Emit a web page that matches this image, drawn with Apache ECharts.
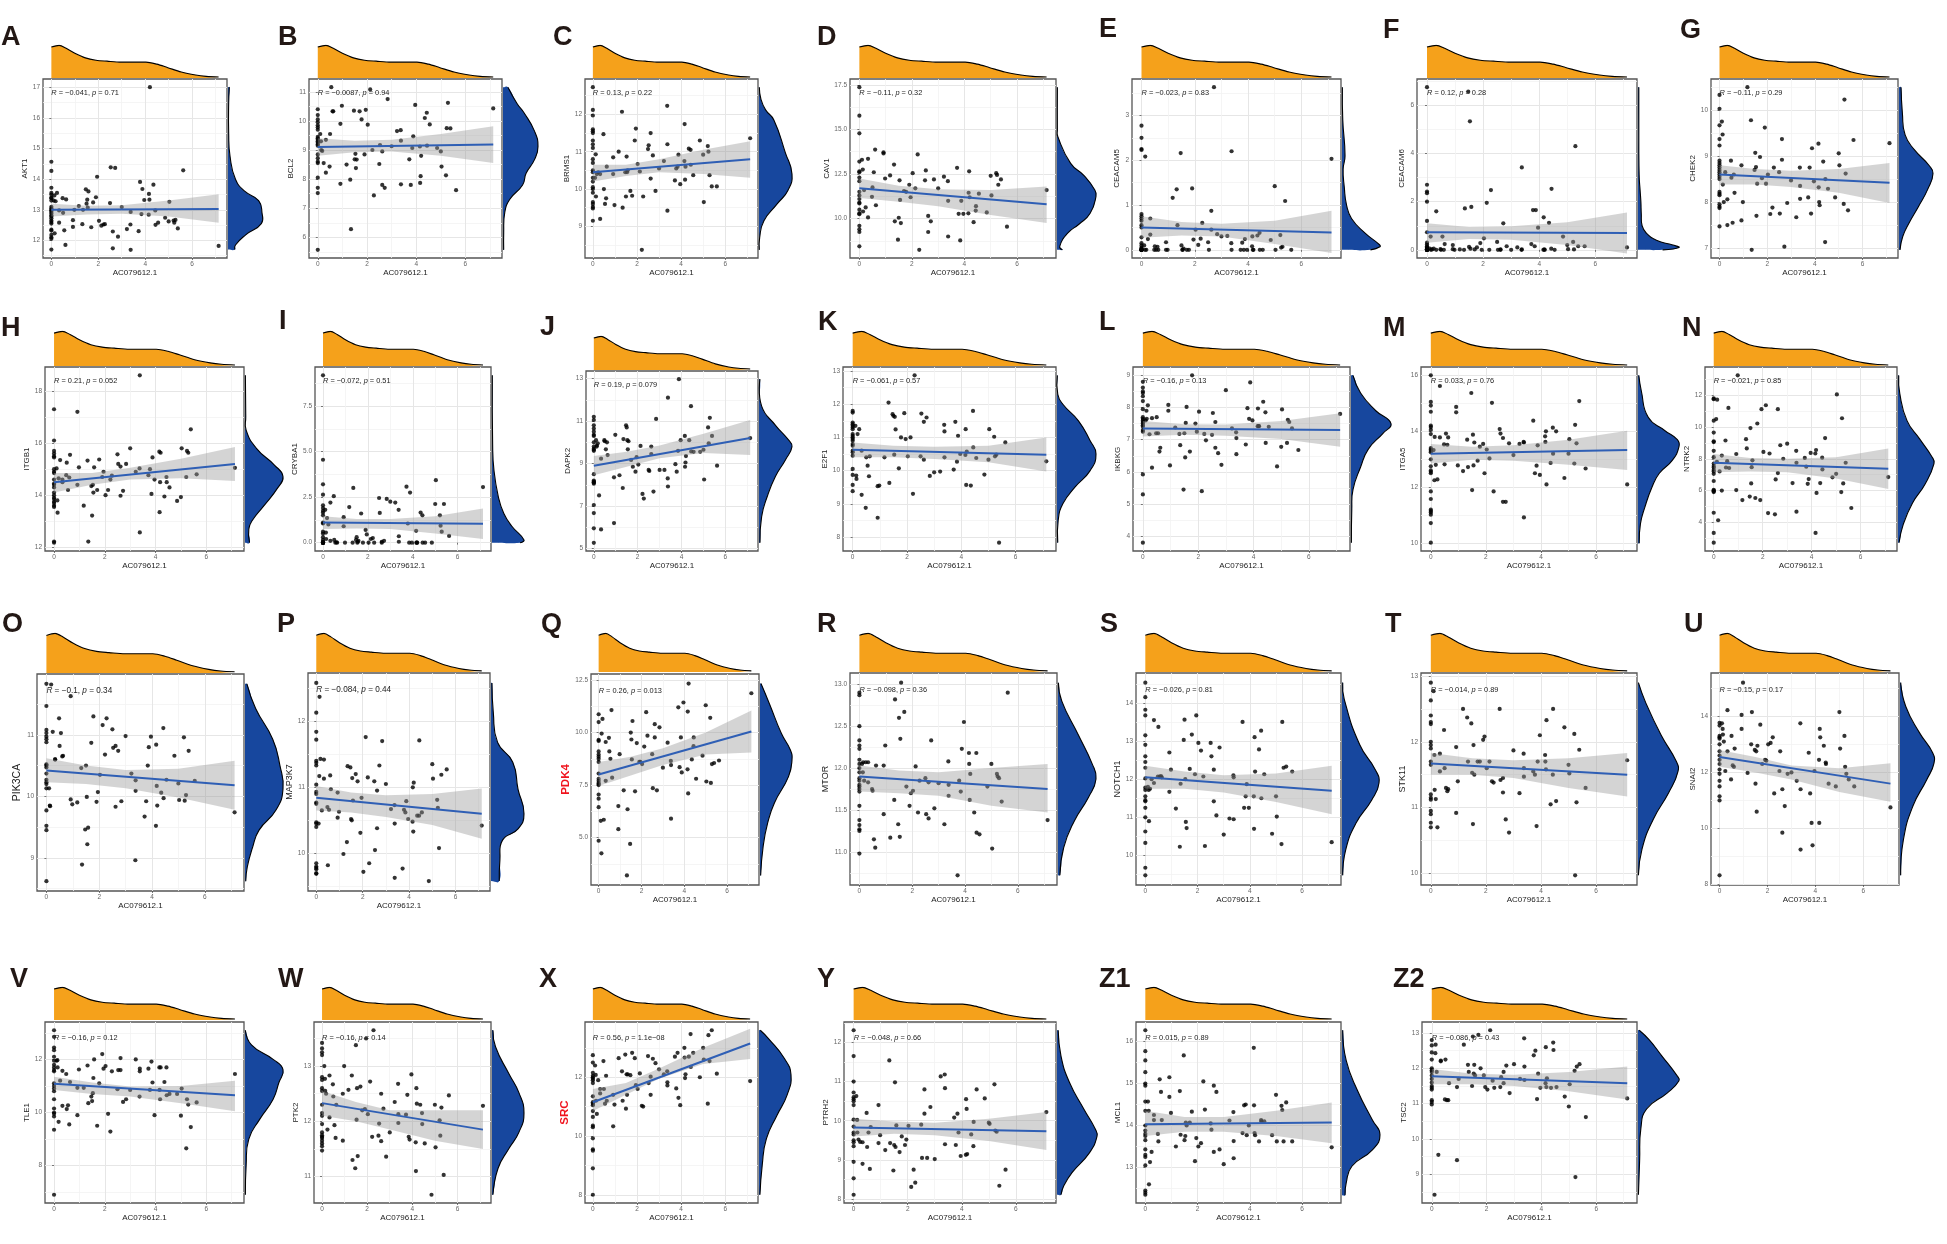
<!DOCTYPE html>
<html>
<head>
<meta charset="utf-8">
<title>AC079612.1 correlation panels</title>
<script src="https://cdn.jsdelivr.net/npm/echarts@6/dist/echarts.min.js"></script>
<style>
  html, body { margin: 0; padding: 0; background: #fff; }
  #chart { width: 1947px; height: 1244px; }
</style>
</head>
<body>
<div id="chart"></div>
<script>
// x values of the samples that are not at zero, same for every panel
const xValues = [
  .1,.13,.14,.18,.24,.33,.33,.48,
  .5,.55,.6,.63,.92,.92,.98,1.17,
  1.32,1.35,1.47,1.5,1.53,1.55,1.58,1.7,
  1.78,1.9,1.95,2.03,2.13,2.22,2.28,2.5,
  2.53,2.62,2.62,2.72,2.84,3,3.22,3.37,
  3.38,3.38,3.72,3.78,3.84,3.88,3.96,4.15,
  4.16,4.18,4.2,4.35,4.43,4.44,4.55,4.85,
  5,5.03,5.21,5.24,5.29,5.39,5.62,7.13];
const xTicks = [0, 2, 4, 6];
const xMinor = [1, 3, 5, 7];
const bandX = [0, 1.5, 3, 5, 7.13];

// marginal density of AC079612.1 along the top
const topX = [0,.33,.63,1,1.45,1.9,2.37,2.97,3.58,4.03,4.49,4.94,5.54,6.15,6.6,7.13];
const topD = [94,99,90,75,61,54,51,48,48,48,42,32,18,9,5,3];

// A AKT1
const zero_A = [14.57,14.27,13.72,13.55,13.5,13.4,13.38,13.3,13.1,13.05,13,12.97,12.93,12.88,12.82,12.78,12.72,12.65,12.6,12.55,12.35,12.32,12.18,12.1,12.05,11.7];
const y_A = [13.3,13.47,12.23,13.28,13.55,12.58,12.98,13.38,12.9,12.33,11.85,13.34,12.66,12.44,13,13.12,12.53,13,13.67,13.2,13.33,13.07,13.6,12.43,13.24,13.41,14.08,12.64,12.48,12.52,12.53,13.22,14.39,12.29,11.74,14.37,12.12,13.09,12.37,12.52,12.93,11.69,12.3,13.91,12.86,13.68,13.32,12.84,13.52,13.33,17.01,13.82,12.98,12.51,12.58,12.74,12.62,13.26,12.65,12.58,12.67,12.39,14.29,11.82];
const fit_A = [13,13.03], lo_A = [12.78,12.85,12.87,12.78,12.58], hi_A = [13.2,13.13,13.15,13.3,13.51];
const rY_A = [11.7,11.85,12.18,12.55,12.9,13.3,13.6,14,14.75,15.5,16.5,17.01], rD_A = [20,22,52,98,100,90,50,22,6,2,2,4];
// B BCL2
const zero_B = [10.4,10.2,10.05,9.95,9.85,9.78,9.7,9.45,9.4,9.35,9.3,9.25,9.2,9.15,8.85,8.72,8.6,8.55,8.05,7.7,7.52,5.57];
const y_B = [9.55,9.3,9,8.97,8.55,8.22,9.35,8.43,9.55,11.16,10.33,10.33,9.9,7.84,10.52,8.5,7.98,6.28,10.35,8.68,8.87,8.38,8.67,10.33,10.05,8.85,10.38,9.87,11.08,9,7.44,8.52,9.17,8.95,7.8,7.7,10.75,9.13,9.65,9.68,9.32,7.82,8.68,7.8,9.07,9.47,10.55,9.12,7.87,8.1,8.8,10.1,10.28,9.15,9.88,9.07,8.95,8.43,8.13,9.75,10.62,9.74,7.62,10.43];
const fit_B = [9.1,9.19], lo_B = [8.8,8.92,8.95,8.8,8.55], hi_B = [9.4,9.32,9.35,9.55,9.82];
const rY_B = [5.57,6.15,6.85,7.3,7.8,8.2,8.67,9.12,9.65,10.28,10.6,11.16], rD_B = [2,2,5,19,56,66,90,100,90,60,40,14];
// C BRMS1
const zero_C = [12.73,12.12,11.97,11.6,11.55,11.5,11.3,11.2,11.1,10.8,10.7,10.5,10.45,10.3,10.2,10.05,10,9.9,9.65,9.6,9.52,9.48,9.15];
const y_C = [10.3,10.93,9.8,10.4,10.45,9.2,10.4,11.47,10,9.6,9.75,10.6,10.85,10.4,9.57,11,12.07,9.5,10.45,9.8,10.87,10.45,10.5,9.95,9.82,11.3,11.62,10.67,10.47,8.37,9.8,11.07,11.17,11.5,10.28,10.9,9.95,10.55,10.75,12.23,11.2,9.42,10.23,10.55,10.6,10.92,10.13,10.75,11.74,10.25,10.6,11.08,11.05,10.65,10.37,11.3,10.92,9.65,11.15,11,10.37,10.07,10.07,11.36];
const fit_C = [10.45,10.8], lo_C = [10.2,10.35,10.45,10.4,10.3], hi_C = [10.65,10.65,10.8,11.05,11.28];
const rY_C = [8.37,8.7,9.15,9.6,9.97,10.4,10.97,11.85,12.12,12.4,12.73], rD_C = [1,2,15,55,88,100,80,45,20,6,1];
// D CAV1
const zero_D = [17.37,15.77,14.78,13.2,12.65,12.6,12.3,12.1,11.5,11.3,11.1,10.9,10.85,10.5,10.3,10.25,9.6,9.4,9.25,8.45];
const y_D = [13.3,12.75,10.4,11.6,10.63,13.35,10.07,11.22,11.75,12.6,13.87,10.75,13.72,13.65,12.25,12.42,13.03,9.85,8.82,10.05,12.15,11.05,9.75,11.55,11.5,11.9,11.2,12.55,11.7,13.6,8.25,12.15,12.7,10.15,9.25,9.85,12.2,11.7,12.35,12.1,11,9,12.85,10.27,8.78,11,10.27,10.3,11.45,12.65,11.2,9.8,10.45,10.7,11.4,10.35,12.4,11.3,12.55,12.45,11.9,12.2,9.55,11.6];
const fit_D = [11.7,10.8], lo_D = [11.15,10.95,10.7,10.2,9.75], hi_D = [12.25,11.85,11.65,11.6,11.8];
const rY_D = [8.25,8.45,9.2,9.7,10.3,11.25,11.6,12.4,13.1,14.6,15,17.37], rD_D = [14,7,28,57,85,100,97,70,35,2,1,1];
// E CEACAM5
const zero_E = [2.77,2.5,2.25,2.23,.8,.75,.7,.65,.55,.5,.28,.15,.1,.05,.02,0,0,0,0,0,0,0,0,0];
const y_E = [.1,0,2.08,0,.24,.7,.34,0,.08,0,.07,0,.17,0,0,1.16,1.35,.55,2.16,.1,0,0,.03,0,0,1.37,.23,.45,.11,.25,.6,.17,0,.87,.45,3.63,.35,.3,.31,.15,2.2,0,0,.16,0,.24,0,.08,.3,0,0,.32,.38,0,0,.22,1.42,0,.33,.05,.07,1.09,0,2.03];
const fit_E = [.5,.39], lo_E = [.27,.32,.3,.13,-.07], hi_E = [.75,.62,.58,.65,.87];
const rY_E = [0,.07,.12,.38,.7,1,1.4,1.8,2.1,2.9,3.63], rD_E = [75,100,98,60,25,12,6,3,8,2,1];
// F CEACAM6
const zero_F = [6.75,2.7,2.42,2.35,2,1.2,.73,.3,.22,.15,.1,.08,.05,.03,0,0,0,0,0,0,0,0,0,0];
const y_F = [.05,.55,0,.02,.05,1.6,0,.03,0,.55,0,.24,.03,.2,0,.02,0,1.72,6.56,.12,5.33,.05,1.78,.02,.1,.28,0,.48,1.95,0,2.48,.33,0,.02,0,1.1,.15,0,.1,0,3.42,.02,.24,1.65,.15,1.65,.92,0,1.35,.02,0,1.12,.05,2.53,0,.55,.2,.03,.33,.02,4.3,.15,.15,.1];
const fit_F = [.73,.7], lo_F = [.3,.45,.42,.2,-.15], hi_F = [1.1,.95,.98,1.15,1.55];
const rY_F = [0,.1,.2,.4,.7,1,1.5,2,2.5,3,4.3,6.75], rD_F = [60,100,85,45,20,10,8,7,5,3,2,2];
// G CHEK2
const zero_G = [10.33,10.03,9.67,9.37,9.23,8.9,8.85,8.8,8.75,8.7,8.65,8.6,8.55,8.5,8.22,8.18,8.15,7.95,7.9,7.87,7.47];
const y_G = [9.75,9.47,8.38,8,8.65,8.06,7.5,8.9,8.53,7.55,8.6,8.2,8.8,7.6,8,10.5,9.78,6.96,8.7,9.07,8.76,7.7,8.4,8.98,8.52,9.62,8.4,8.6,7.74,7.88,8.75,8.65,7.75,9.37,8.92,7.03,7.98,8.47,7.67,8.75,8.35,8.07,8.1,8.75,7.75,9.17,8.45,9.27,8.32,8,7.93,8.88,7.13,8.5,8.29,8.1,9.06,8.8,7.96,10.23,8.62,7.82,9.35,9.28];
const fit_G = [8.6,8.42], lo_G = [8.38,8.38,8.33,8.2,7.98], hi_G = [8.8,8.72,8.68,8.72,8.85];
const rY_G = [6.96,7.25,7.55,7.9,8.27,8.62,8.8,9.14,9.46,9.93,10.5], rD_G = [3,11,30,57,84,100,88,45,18,10,6];
// H ITGB1
const zero_H = [17.3,16.1,15.7,15.6,15.5,15.45,15,14.9,14.85,14.6,14.45,14.4,14.3,14.1,14,13.9,13.85,13.75,13.7,13.6,13.55,12.22,12.18];
const y_H = [15.03,13.8,13.33,14.65,15.35,14.6,14.5,14.77,15.25,14.2,14.68,15.55,14.4,17.2,15.07,13.6,15.33,12.22,14.35,13.22,14.4,14.1,15.07,14.2,15.37,14.7,14.9,14,14.2,14.6,14.75,15.57,15.2,15.1,13.98,14.17,15.2,15.8,14.9,15.03,12.57,18.6,14.77,15,14.05,15.45,14.6,15.67,13.35,14.5,15.63,13.95,14.7,14.5,14.3,13.78,13.93,15.8,14.7,15.7,15.63,16.53,14.8,15.05];
const fit_H = [14.5,15.2], lo_H = [14.1,14.4,14.6,14.65,14.55], hi_H = [14.85,14.85,15.05,15.4,15.85];
const rY_H = [12.18,12.7,13.05,13.6,14.28,14.72,15.15,15.8,16.5,17,18.6], rD_H = [12,10,20,50,86,100,78,30,3,2,1];
// I CRYBA1
const zero_I = [9.18,4.55,3.2,2.63,2.05,1.9,1.75,1.65,1.5,1.1,1.05,.6,.5,.3,.15,.05,0,0,0,0,0,0,0,0];
const y_I = [1.8,.55,.2,1.35,1,2.2,.1,2.55,.15,0,.02,0,1.4,.9,0,1.95,0,3,.15,.3,0,.05,.1,1.6,0,.7,.45,0,.2,.25,0,2.45,1.63,0,.05,.1,2.4,2.25,2.2,1.8,.35,.05,3.07,1.05,0,2.75,0,.65,0,0,0,1.65,1.5,0,0,0,2.12,3.43,1.5,.93,.6,2.12,.37,3.05];
const fit_I = [1.1,1.03], lo_I = [.75,.78,.75,.5,.2], hi_I = [1.45,1.3,1.3,1.45,1.87];
const rY_I = [0,.15,.9,1.6,2.5,4,5.4,9.18], rD_I = [88,100,62,37,20,6,2,1];
// J DAPK2
const zero_J = [11.2,11.05,10.8,10.65,10.5,10.35,10.3,10,9.8,9.7,9.65,9.6,8.5,8.2,8.15,8.12,8.1,8.05,7.05,6.67,5.95,5.27];
const y_J = [10.1,9.8,9.85,9.95,7.5,9.23,5.9,10.1,10.05,9.67,10,9.4,8.35,6.2,10.35,8.45,7.85,10.15,10.8,10.7,10.1,9.67,10.05,9.17,8.85,8.62,9.3,8.95,9.83,7.57,7.35,8.7,8.65,9.45,9.8,7.68,11.1,8.7,8.7,8.3,12.1,7.92,8.97,8.62,9.6,12.97,10.1,10.3,8.85,9.05,9.35,10.1,11.7,9.57,9.55,9.55,9.65,8.25,10.7,9.95,11.15,10.3,8.9,10.2];
const fit_J = [8.9,10.2], lo_J = [8.45,8.85,9.25,9.5,9.4], hi_J = [9.35,9.55,9.85,10.4,11.05];
const rY_J = [5.27,6.5,7.45,8.4,9.17,9.8,10.1,10.8,11.7,12.97], rD_J = [3,8,25,50,80,100,90,50,8,3];
// K E2F1
const zero_K = [11.8,11.75,11.45,11.4,11.35,11.3,11.25,11.1,11.05,11,10.95,10.9,10.8,10.75,10.6,10.55,10.45,10.05,9.87,9.57,9.38];
const y_K = [11.35,9.85,9.75,11.1,11.25,10.6,9.27,8.88,10.4,10.15,9.83,10.43,8.58,9.53,9.55,10.4,12.05,9.63,11.7,11.65,10.48,11.62,11.24,10.07,11,11.73,10.95,10.43,11,9.3,12.87,10.43,11.72,11.47,10.33,11.6,9.84,9.95,9.97,11.38,11.18,10.4,10.03,11.47,10.27,11.05,10.5,10.47,11.25,9.57,10.57,9.55,11.8,10.7,10.38,9.88,10.33,11.25,11.02,10.43,10.48,7.83,10.85,10.28];
const fit_K = [10.63,10.48], lo_K = [10.4,10.4,10.35,10.25,9.97], hi_K = [10.85,10.75,10.72,10.75,11];
const rY_K = [7.83,8.5,9,9.5,10,10.5,10.9,11.5,12,12.3,12.87], rD_K = [2,3,15,46,85,100,85,55,15,2,1];
// L IKBKG
const zero_L = [8.8,8.62,8.5,8.45,8.35,8.2,7.95,7.7,7.65,7.6,7.55,7.5,7.45,7.4,7.3,7.25,5.92,5.3,3.8];
const y_L = [7.6,7.9,7.65,8.07,7.17,7.67,6.13,7.2,7.7,7.2,6.63,6.75,8.08,7.9,6.2,7.38,7.18,6.83,5.45,7.2,6.45,7.52,8.02,6.63,9,7.5,7.25,7.87,5.4,7.18,6.98,7.15,7.83,7.55,6.75,6.58,6.22,8.54,7.35,7.23,7.05,6.55,6.85,7.98,7.65,8.78,7.6,7.42,7.97,7.42,7.42,8.18,7.85,6.9,7.4,6.17,6.78,7.94,6.9,7.62,7.55,7.35,6.68,7.8];
const fit_L = [7.35,7.3], lo_L = [7.1,7.15,7.12,7.02,6.78], hi_L = [7.58,7.48,7.47,7.58,7.82];
const rY_L = [3.8,4.85,5.45,6.15,6.7,7.2,7.5,7.9,8.45,9], rD_L = [1,2,5,24,43,80,100,62,24,5];
// M ITGA5
const zero_M = [16,15.05,14.92,14.7,14.2,14.15,14.05,13.9,13.4,13.35,13.3,13.25,13,12.75,12.6,12.55,12.5,11.85,11.58,11.2,11.15,11.1,11.02,10.72,10.02];
const y_M = [13.33,12.25,13.8,12.8,12.28,15.62,13.78,13.53,12.82,13.92,13.52,13.78,14.87,14.68,12.78,12.58,13.7,12.72,15.37,11.9,13.88,12.78,13.6,12.95,13.45,13.55,12.5,13.35,13.03,15.02,11.85,14.08,13.92,13.76,11.48,11.48,13.57,13.15,13.55,13.62,10.92,13.6,14.38,12.5,12.77,13.5,12.44,13.82,13.62,14,12.1,12.87,14.13,13.2,14,12.33,13.2,13.72,12.85,14.23,13.57,15.08,12.67,12.1];
const fit_M = [13.2,13.33], lo_M = [12.85,12.98,12.95,12.8,12.62], hi_M = [13.55,13.45,13.5,13.7,14.02];
const rY_M = [10,10.7,11.3,12,12.5,12.95,13.45,13.7,14.03,14.5,15.45,16], rD_M = [3,6,17,34,52,83,100,96,65,25,8,2];
// N NTRK2
const zero_N = [11.8,11.75,10.4,9.65,9.1,9.05,8.5,8.1,7.7,7.55,7.45,7.3,7.2,7.05,6.6,6.05,6,5.95,5.9,4.6,3.33,2.72];
const y_N = [10.5,7.8,11.72,4.13,7.2,8.2,6,9.15,7.45,7.85,11.2,7.42,6.03,8.3,13.25,5.4,9.23,8.65,5.62,9.93,6.45,7.47,7.9,5.53,10.22,5.4,11.12,8.43,11.37,4.58,8.33,4.5,6.7,7.1,11.12,8.85,8,8.95,6.47,8.5,7.75,4.67,8.05,7.5,6.42,6.72,8.37,8.33,3.33,8.55,5.85,6.47,8.07,7.33,9.3,6.83,7.05,12.05,5.9,10.55,6.45,7.75,4.9,6.85];
const fit_N = [7.75,7.37], lo_N = [7.15,7.2,7.15,6.75,6.1], hi_N = [8.3,8.05,8,8.1,8.65];
const rY_N = [2.72,3.9,5.2,6.4,7.7,8.1,9.25,10.4,12.1,13.25], rD_N = [3,15,40,75,100,95,60,25,5,2];
// O PIK3CA
const zero_O = [11.83,11.47,11.08,11.03,10.97,10.93,10.88,10.52,10.5,10.47,10.37,10.27,10.23,10.2,10.13,9.77,9.52,9.45,8.62];
const y_O = [10.13,9.85,9.84,11.82,11.05,10.6,10.6,11.27,10.82,11.03,10.65,10.66,11.63,9.95,9.87,9.9,10.46,8.89,9.46,10.5,9.99,9.22,9.49,10.87,11.3,9.91,10.07,10.35,11.16,10.68,11.27,11.09,10.79,10.82,9.83,10.74,9.92,10.98,10.37,8.96,10.26,10.09,9.67,9.92,10.5,10.8,10.97,9.52,10.84,10.17,9.85,10.06,11.11,9.97,10.27,10.66,10.21,9.94,10.96,9.93,10.02,10.74,10.25,9.74];
const fit_O = [10.42,10.18], lo_O = [10.23,10.2,10.13,9.98,9.78], hi_O = [10.62,10.5,10.43,10.45,10.58];
const rY_O = [8.62,8.85,9.17,9.45,9.78,10.12,10.5,10.93,11.43,11.83], rD_O = [2,6,20,37,82,100,92,73,28,5];
// P MAP3K7
const zero_P = [12.58,12.13,11.84,11.72,11.4,11.37,11.33,11.04,10.93,10.9,10.77,10.75,10.47,10.45,10.4,9.85,9.8,9.78,9.76,9.7,9.69];
const y_P = [10.45,11.17,12.37,11.43,10.65,11.42,11.13,10.7,9.82,10.66,11.18,10.97,10.92,10.54,10.63,9.99,10.17,11.32,11.3,10.52,10.5,11.14,10.8,11.2,11.09,10.31,10.84,9.72,11.76,11.15,9.85,11.09,10.05,10.38,10.95,11.33,11.7,11.05,10.67,10.73,10.45,9.63,9.77,10.66,10.62,10.79,10.52,10.48,11,10.33,11.07,10.57,10.57,11.71,10.62,9.58,11.35,11.13,10.81,10.69,10.08,11.19,11.27,10.42];
const fit_P = [10.84,10.6], lo_P = [10.65,10.62,10.55,10.43,10.22], hi_P = [11.02,10.92,10.88,10.9,10.98];
const rY_P = [9.58,9.9,10.2,10.37,10.6,10.97,11.38,11.68,12.13,12.58], rD_P = [25,27,35,82,100,82,66,20,7,3];
// Q PDK4
const zero_Q = [10.87,10.5,9.65,9.6,9.1,8.95,8.85,8.75,8.6,8.05,7.8,7.7,7.6,7.55,7.5,7.05,6.85,6.45,4.85];
const y_Q = [5.8,4.25,9.95,10.65,5.85,7.7,9.55,9.75,9.1,8.75,11.07,7.85,6.5,5.4,8.97,7.25,3.2,6.35,4.7,10,9.67,8.72,10.55,7.2,9.5,8.6,8.6,8.5,9.33,10.97,9.85,8.97,7.35,10.4,9.77,7.25,10.25,8.33,9.52,8.65,8.45,5.9,11.2,8.35,9.77,8.1,11.43,8.25,11,7.1,12.33,8.72,9.35,9.77,7.8,8.9,11.3,7.67,10.7,7.6,8.5,8.55,8.67,11.87];
const fit_Q = [8,10.05], lo_Q = [7.45,7.95,8.45,8.95,9.05], hi_Q = [8.6,8.85,9.25,10,11.05];
const rY_Q = [3.2,4.6,5.7,6.65,7.9,8.7,9.17,9.95,11.35,12.33], rD_Q = [2,10,24,45,89,100,95,67,30,3];
// R MTOR
const zero_R = [12.9,12.87,12.5,12.33,12.27,12.23,12.1,12.05,12,11.95,11.88,11.85,11.8,11.78,11.75,11.72,11.55,11.38,11.32,11.27,11.25,10.98];
const y_R = [12.05,11.95,12.07,11.85,12.07,11.83,12.07,11.75,11.73,11.15,11.05,12.03,12.03,11.45,12.27,11.17,11.62,12.82,11.33,12.6,11.18,12.35,13.02,12.67,11.78,11.55,11.7,11.73,12.02,11.47,11.85,11.88,11.45,11.4,11.83,12.33,11.52,11.82,11.33,12.08,11.67,11.8,10.72,11.85,11.72,12.23,12.55,12.18,12.05,11.62,11.93,11.47,12.18,11.23,11.21,11.78,12.05,11.04,11.93,11.9,11.88,11.6,12.9,11.38];
const fit_R = [11.9,11.75], lo_R = [11.72,11.7,11.67,11.55,11.47], hi_R = [12.03,11.97,11.95,12,12.05];
const rY_R = [10.72,11.05,11.37,11.65,11.87,12.05,12.4,12.8,13.02], rD_R = [5,15,43,80,100,90,53,10,1];
// S NOTCH1
const zero_S = [14.53,14.15,13.82,13.67,13.15,12.9,12.6,12.45,12.3,12.02,11.78,11.72,11.55,11.45,11.42,11.25,11,10.63,10.33,9.68,9.48];
const y_S = [11.8,11.72,10.9,11.75,12,11.9,13.55,12.07,13.37,12.07,12.08,12.05,11.67,12.7,12.25,11.23,10.23,11.88,13.03,13.56,12,10.88,10.72,12.27,13.17,12.13,13.67,12.95,12.75,12.07,10.25,12.95,12.6,12.25,11.42,11.05,12.83,10.55,10.97,12.1,10.95,12.05,13.5,11.25,11.55,11.87,11.25,11.55,10.7,13.1,12.2,12.78,13.27,11.5,12.13,10.57,11.55,11.02,10.3,13.5,12.3,12.33,12.2,10.35];
const fit_S = [12.05,11.7], lo_S = [11.75,11.75,11.65,11.4,11.08], hi_S = [12.35,12.2,12.1,12.15,12.35];
const rY_S = [9.48,10.15,10.85,11.45,11.9,12.25,12.9,14.1,14.53], rD_S = [2,10,38,80,100,90,48,6,2];
// T STK11
const zero_T = [12.9,12.63,12.4,12.3,12.27,12,11.95,11.9,11.7,11.65,11.2,11.15,11.12,10.95,10.9,10.77,10.7];
const y_T = [12.77,11.8,11.27,11.13,10.7,11.82,11.55,12.18,11.6,11.3,11.25,11.28,11.92,10.92,11.4,12.5,12.37,11.7,12.28,11.53,10.75,11.95,11.5,11.7,11.7,12.03,12.08,11.6,11.7,11.4,11.38,12.5,11.42,11.45,11.23,10.82,10.62,11.87,11.22,11.82,11.47,11.6,11.55,11.5,10.72,11.7,12.1,11.8,11.7,11.58,12.33,11.05,11.5,12.5,11.1,12.22,11.65,11.52,12.12,9.97,11.08,11.88,11.3,11.72];
const fit_T = [11.67,11.5], lo_T = [11.5,11.5,11.45,11.3,11.17], hi_T = [11.83,11.75,11.72,11.75,11.83];
const rY_T = [9.97,10.37,10.82,11.23,11.55,11.7,12.1,12.6,12.9], rD_T = [1,10,38,77,100,96,58,19,1];
// U SNAI2
const zero_U = [13.77,13.67,13.3,13.25,13.2,13,12.75,12.6,12.45,12.3,12.1,11.95,11.7,11.5,11.15,11,8.33];
const y_U = [13.75,13.55,13.35,13.1,12.05,14.22,12.75,11.75,13.3,12.25,12.2,12.85,14.05,13.55,15.2,11.98,13,14.15,12.8,11.6,12.75,10.6,12.95,13.7,12.3,12.45,12.42,13,13.05,13.25,11.25,12.05,12.75,11.4,9.85,10.8,11.95,12,11.7,13.75,11.4,9.25,12.7,11.25,10.2,9.4,12.05,12.45,10.2,13.55,13.25,12.95,12.35,12.3,11.6,11.5,14.15,12.85,13.3,12.2,11.95,11.75,11.5,10.75];
const fit_U = [12.55,11.6], lo_U = [12.2,12,11.75,11.3,10.95], hi_U = [12.8,12.55,12.25,12.15,12.33];
const rY_U = [8.33,9.6,10.8,11.75,12.33,12.7,13.4,14.35,15.2], rD_U = [2,10,38,79,100,96,58,17,2];
// V TLE1
const zero_V = [13.1,12.85,12.45,12.35,12.1,11.95,11.8,11.7,11.6,11.55,11.1,11,10.9,10.8,10.5,10.15,10,9.95,9.85,9.35,6.9];
const y_V = [11.95,11.97,11.7,9.65,11.2,11.57,10.25,11.45,10.13,10.27,9.55,11.15,9.9,10.93,11.62,10.93,11.77,10.35,10.6,10.43,10.73,11.3,12,9.5,11.1,12.2,11.65,11.75,9.95,9.28,11.55,10.88,11.6,12.05,11.6,10.4,10.5,10.85,12,10.6,11.65,11.55,11.65,10.85,11.92,11.13,9.9,11.7,10.85,10.5,11.7,11.15,11.7,10.65,10.7,10.7,9.88,10.9,8.65,10.5,10.3,9.45,10.38,11.45];
const fit_V = [11.08,10.65], lo_V = [10.85,10.7,10.6,10.35,10.05], hi_V = [11.35,11.13,10.98,11,11.2];
const rY_V = [6.9,8,9,9.75,10.5,11.12,11.62,12,12.55,13.1], rD_V = [1,3,10,39,74,89,100,74,17,1];
// W PTK2
const zero_W = [13.42,13.32,13.25,13.2,12.8,12.75,12.6,12.55,12.3,12.15,12.1,11.95,11.8,11.75,11.72,11.7,11.65,11.6,11.55,11.47];
const y_W = [13,12.77,12.55,12.5,11.85,12.83,12.07,12.67,12.45,11.93,11.7,12.3,12.5,11.65,13,12.57,12.83,11.3,11.15,13.38,12.03,12.6,11.37,12.63,12.2,12.22,13.5,12.13,12.72,11.72,13.65,11.74,11.96,11.64,12.5,12.23,11.36,11.8,12.35,12.68,12.13,11.97,12.12,12.48,11.72,11.67,12.85,11.62,11.1,12.6,12.32,12.3,12.15,11.95,11.6,10.67,12.3,11.53,12.02,11.74,12.25,11.03,12.47,12.28];
const fit_W = [12.33,11.85], lo_W = [12.1,12,11.85,11.65,11.5], hi_W = [12.55,12.35,12.2,12.2,12.2];
const rY_W = [10.67,11.15,11.5,11.8,12.15,12.52,12.87,13.35,13.65], rD_W = [3,19,52,84,100,84,52,11,3];
// X SRC
const zero_X = [12.75,12.5,12.15,12.05,12,11.95,11.9,11.8,11.35,11.15,11.1,11.05,10.85,10.65,10.35,10.3,9.92,9.55,9.5,8.9,8];
const y_X = [12.4,12.08,11.2,10.75,11.9,11.45,11.6,12.55,11.6,11.1,12.05,11.2,10.33,11.4,11.07,12.65,12.2,11.2,12.77,10.93,12.1,11.4,12.1,12.07,12.83,12.65,11.73,11.6,12.13,11.03,11,12.72,11.8,12.02,11.4,12.63,12.48,12.27,12.1,12.2,11.83,11.72,12.7,11.62,12.83,11.3,11.05,13,12.67,11.97,12.1,12.7,13.47,12.35,12.83,12,13,12.6,11.1,13.43,12.55,13.6,12.12,11.87];
const fit_X = [11.15,13.15], lo_X = [10.85,11.4,11.95,12.45,12.62], hi_X = [11.6,11.8,12.3,13,13.65];
const rY_X = [8,9,9.9,10.7,11.4,12.08,12.63,13.3,13.6], rD_X = [3,10,23,56,88,100,80,31,4];
// Y PTRH2
const zero_Y = [12.31,11.65,11,10.72,10.6,10.55,10.5,10.4,10.03,9.85,9.7,9.65,9.5,9.45,9.35,8.95,8.53,8.11];
const y_Y = [10.63,10.02,9.7,9.52,9.46,8.9,9.45,10.2,9.33,9.7,8.77,9.84,10.4,9.43,9.63,9.25,11.54,9.43,8.73,9.38,10.98,9.33,9.88,9.2,9.6,9.38,9.52,9.87,8.31,8.75,8.42,9.9,9.05,10.18,10.8,9.05,10.35,9.02,11.13,11.18,9.4,10.83,10.08,9.38,10.18,9.7,9.1,9.13,10.55,10.3,9.15,9.65,9.35,9.97,10.8,10.57,9.95,9.92,10.93,9.75,9.72,8.34,8.75,10.22];
const fit_Y = [9.83,9.73], lo_Y = [9.6,9.67,9.63,9.48,9.25], hi_Y = [10.05,9.98,9.95,10.05,10.22];
const rY_Y = [8.11,8.34,8.68,9.18,9.6,9.78,10.3,10.98,11.65,12.31], rD_Y = [10,17,38,81,100,96,67,31,10,3];
// Z1 MCL1
const zero_Z1 = [16.27,15.77,15.55,15.27,15,14.95,14.57,14.35,14,13.88,13.8,13.75,13.65,13.43,13.3,13.25,13.05,12.45,12.4,12.35];
const y_Z1 = [14.57,14.35,12.6,13.13,13.37,14.25,14.13,13.8,13.62,15.1,14.8,14.13,14.68,15.15,14.3,13.5,14.82,13.78,15.67,13.65,13.75,14.07,14,14.07,14.33,13.15,13.7,13.5,13.58,15.05,14.38,14.05,13.9,14.95,13.37,14.8,13.43,13.08,14.12,14.32,13.63,13.22,13.82,14.48,14.5,13.77,14,15.85,14.48,13.82,13.77,13.62,14.13,14.1,14.1,13.77,14.73,13.62,14.47,14.37,13.62,14.55,13.62,13.48];
const fit_Z1 = [14.03,14.07], lo_Z1 = [13.75,13.85,13.85,13.75,13.58], hi_Z1 = [14.35,14.2,14.2,14.35,14.55];
const rY_Z1 = [12.34,12.63,13.03,13.42,13.78,14.13,14.83,15.55,16.27], rD_Z1 = [8,11,26,80,100,80,41,11,2];
// Z2 TSC2
const zero_Z2 = [12.8,12.65,12.45,12.25,12,11.95,11.9,11.8,11.7,11.6,11.5,11.45,11.4,11.1,11.05,10.98];
const y_Z2 = [8.42,12.43,12.67,11.9,9.55,12.2,12.22,11.12,12.25,11.1,11.1,11.58,9.4,11.47,11.7,12.67,12.1,11.9,11.5,12.9,11.85,12.1,11.8,12.95,12,11.8,11.47,11.4,13.08,11.65,11.45,11.47,11.75,11.9,11.58,12.08,11.3,12.12,11.7,12.85,12.05,11.67,12.37,12.5,11.13,11.85,11.45,11.58,12.6,11.47,11.72,11.45,12.73,12.52,11.47,11.2,10.92,11.55,11.93,8.92,12.05,12.12,10.62,11.15];
const fit_Z2 = [11.78,11.58], lo_Z2 = [11.55,11.55,11.5,11.35,11.12], hi_Z2 = [11.98,11.85,11.82,11.9,12.05];
const rY_Z2 = [8.42,9.4,10.3,10.85,11.3,11.65,11.78,12.37,12.8,13.08], rD_Z2 = [1,4,7,21,71,100,96,57,28,3];

// panel table: label, gene, R, p, y ticks, decimals, arrays, then the page layout
// l r t b = plot box, st sb = top strip, pk = right end of side density, lx ly = letter
const panels = [
  {id:'A', gene:'AKT1', R:'−0.041', p:'0.71', ticks:[12,13,14,15,16,17], zero:zero_A, y:y_A, fit:fit_A, lo:lo_A, hi:hi_A, rY:rY_A, rD:rD_A, l:43, r:227, t:79, b:258, st:45, sb:78, pk:262, lx:1, ly:35},
  {id:'B', gene:'BCL2', R:'−0.0087', p:'0.94', ticks:[6,7,8,9,10,11], zero:zero_B, y:y_B, fit:fit_B, lo:lo_B, hi:hi_B, rY:rY_B, rD:rD_B, l:309, r:502, t:79, b:258, st:45, sb:78, pk:538, lx:278, ly:35},
  {id:'C', gene:'BRMS1', R:'0.13', p:'0.22', ticks:[9,10,11,12], zero:zero_C, y:y_C, fit:fit_C, lo:lo_C, hi:hi_C, rY:rY_C, rD:rD_C, l:585, r:758, t:79, b:258, st:45, sb:78, pk:792, lx:553, ly:35},
  {id:'D', gene:'CAV1', R:'−0.11', p:'0.32', ticks:[10,12.5,15,17.5], dec:1, zero:zero_D, y:y_D, fit:fit_D, lo:lo_D, hi:hi_D, rY:rY_D, rD:rD_D, l:850, r:1056, t:79, b:258, st:45, sb:78, pk:1096, lx:817, ly:35},
  {id:'E', gene:'CEACAM5', R:'−0.023', p:'0.83', ticks:[0,1,2,3], zero:zero_E, y:y_E, fit:fit_E, lo:lo_E, hi:hi_E, rY:rY_E, rD:rD_E, l:1132, r:1341, t:79, b:258, st:45, sb:78, pk:1380, lx:1099, ly:27},
  {id:'F', gene:'CEACAM6', R:'0.12', p:'0.28', ticks:[0,2,4,6], zero:zero_F, y:y_F, fit:fit_F, lo:lo_F, hi:hi_F, rY:rY_F, rD:rD_F, l:1417, r:1637, t:79, b:258, st:45, sb:78, pk:1679, lx:1383, ly:28},
  {id:'G', gene:'CHEK2', R:'−0.11', p:'0.29', ticks:[7,8,9,10], zero:zero_G, y:y_G, fit:fit_G, lo:lo_G, hi:hi_G, rY:rY_G, rD:rD_G, l:1711, r:1898, t:79, b:258, st:45, sb:78, pk:1933, lx:1680, ly:28},

  {id:'H', gene:'ITGB1', R:'0.21', p:'0.052', ticks:[12,14,16,18], zero:zero_H, y:y_H, fit:fit_H, lo:lo_H, hi:hi_H, rY:rY_H, rD:rD_H, l:45, r:244, t:367, b:551, st:331, sb:366, pk:283, lx:1, ly:326},
  {id:'I', gene:'CRYBA1', R:'−0.072', p:'0.51', ticks:[0,2.5,5,7.5], dec:1, zero:zero_I, y:y_I, fit:fit_I, lo:lo_I, hi:hi_I, rY:rY_I, rD:rD_I, l:315, r:491, t:367, b:551, st:331, sb:366, pk:524, lx:279, ly:319},
  {id:'J', gene:'DAPK2', R:'0.19', p:'0.079', ticks:[5,7,9,11,13], zero:zero_J, y:y_J, fit:fit_J, lo:lo_J, hi:hi_J, rY:rY_J, rD:rD_J, l:586, r:758, t:371, b:551, st:336, sb:370, pk:792, lx:540, ly:325},
  {id:'K', gene:'E2F1', R:'−0.061', p:'0.57', ticks:[8,9,10,11,12,13], zero:zero_K, y:y_K, fit:fit_K, lo:lo_K, hi:hi_K, rY:rY_K, rD:rD_K, l:843, r:1056, t:367, b:551, st:331, sb:366, pk:1096, lx:818, ly:320},
  {id:'L', gene:'IKBKG', R:'−0.16', p:'0.13', ticks:[4,5,6,7,8,9], zero:zero_L, y:y_L, fit:fit_L, lo:lo_L, hi:hi_L, rY:rY_L, rD:rD_L, l:1133, r:1350, t:367, b:551, st:331, sb:366, pk:1391, lx:1099, ly:320},
  {id:'M', gene:'ITGA5', R:'0.033', p:'0.76', ticks:[10,12,14,16], zero:zero_M, y:y_M, fit:fit_M, lo:lo_M, hi:hi_M, rY:rY_M, rD:rD_M, l:1421, r:1637, t:367, b:551, st:331, sb:366, pk:1679, lx:1383, ly:326},
  {id:'N', gene:'NTRK2', R:'−0.021', p:'0.85', ticks:[4,6,8,10,12], zero:zero_N, y:y_N, fit:fit_N, lo:lo_N, hi:hi_N, rY:rY_N, rD:rD_N, l:1705, r:1897, t:367, b:551, st:331, sb:366, pk:1934, lx:1682, ly:326},

  {id:'O', gene:'PIK3CA', geneSize:10.5, gap:10, annoSize:8.2, annoDy:3, R:'−0.1', p:'0.34', ticks:[9,10,11], zero:zero_O, y:y_O, fit:fit_O, lo:lo_O, hi:hi_O, rY:rY_O, rD:rD_O, l:37, r:244, t:674, b:891, st:633, sb:673, pk:283, lx:2, ly:622},
  {id:'P', gene:'MAP3K7', geneSize:9, annoSize:8.2, annoDy:3, R:'−0.084', p:'0.44', ticks:[10,11,12], zero:zero_P, y:y_P, fit:fit_P, lo:lo_P, hi:hi_P, rY:rY_P, rD:rD_P, l:308, r:490, t:673, b:891, st:633, sb:672, pk:524, lx:277, ly:622},
  {id:'Q', gene:'PDK4', red:true, gap:10, annoDy:3, R:'0.26', p:'0.013', ticks:[5,7.5,10,12.5], dec:1, zero:zero_Q, y:y_Q, fit:fit_Q, lo:lo_Q, hi:hi_Q, rY:rY_Q, rD:rD_Q, l:591, r:759, t:674, b:885, st:633, sb:672, pk:792, lx:541, ly:622},
  {id:'R', gene:'MTOR', geneSize:9, annoDy:3, R:'−0.098', p:'0.36', ticks:[11,11.5,12,12.5,13], dec:1, zero:zero_R, y:y_R, fit:fit_R, lo:lo_R, hi:hi_R, rY:rY_R, rD:rD_R, l:850, r:1057, t:673, b:885, st:633, sb:672, pk:1096, lx:817, ly:622},
  {id:'S', gene:'NOTCH1', geneSize:9, annoDy:3, R:'−0.026', p:'0.81', ticks:[10,11,12,13,14], zero:zero_S, y:y_S, fit:fit_S, lo:lo_S, hi:hi_S, rY:rY_S, rD:rD_S, l:1136, r:1341, t:673, b:885, st:633, sb:672, pk:1379, lx:1100, ly:622},
  {id:'T', gene:'STK11', geneSize:9, annoDy:3, R:'−0.014', p:'0.89', ticks:[10,11,12,13], zero:zero_T, y:y_T, fit:fit_T, lo:lo_T, hi:hi_T, rY:rY_T, rD:rD_T, l:1421, r:1637, t:673, b:885, st:633, sb:672, pk:1678, lx:1385, ly:622},
  {id:'U', gene:'SNAI2', annoDy:3, R:'−0.15', p:'0.17', ticks:[8,10,12,14], zero:zero_U, y:y_U, fit:fit_U, lo:lo_U, hi:hi_U, rY:rY_U, rD:rD_U, l:1711, r:1899, t:673, b:885, st:633, sb:672, pk:1934, lx:1684, ly:622},

  {id:'V', gene:'TLE1', annoDy:2, R:'−0.16', p:'0.12', ticks:[8,10,12], zero:zero_V, y:y_V, fit:fit_V, lo:lo_V, hi:hi_V, rY:rY_V, rD:rD_V, l:45, r:244, t:1022, b:1203, st:987, sb:1020, pk:283, lx:10, ly:977},
  {id:'W', gene:'PTK2', annoDy:2, R:'−0.16', p:'0.14', ticks:[11,12,13], zero:zero_W, y:y_W, fit:fit_W, lo:lo_W, hi:hi_W, rY:rY_W, rD:rD_W, l:314, r:491, t:1022, b:1203, st:987, sb:1020, pk:524, lx:278, ly:977},
  {id:'X', gene:'SRC', red:true, gap:8, annoDy:2, R:'0.56', p:'1.1e−08', ticks:[8,10,12], zero:zero_X, y:y_X, fit:fit_X, lo:lo_X, hi:hi_X, rY:rY_X, rD:rD_X, l:585, r:758, t:1022, b:1203, st:987, sb:1020, pk:791, lx:539, ly:977},
  {id:'Y', gene:'PTRH2', annoDy:2, R:'−0.048', p:'0.66', ticks:[8,9,10,11,12], zero:zero_Y, y:y_Y, fit:fit_Y, lo:lo_Y, hi:hi_Y, rY:rY_Y, rD:rD_Y, l:844, r:1056, t:1022, b:1203, st:987, sb:1020, pk:1097, lx:817, ly:977},
  {id:'Z1', gene:'MCL1', annoDy:2, R:'0.015', p:'0.89', ticks:[13,14,15,16], zero:zero_Z1, y:y_Z1, fit:fit_Z1, lo:lo_Z1, hi:hi_Z1, rY:rY_Z1, rD:rD_Z1, l:1136, r:1341, t:1022, b:1203, st:987, sb:1020, pk:1380, lx:1099, ly:977},
  {id:'Z2', gene:'TSC2', annoDy:2, R:'−0.086', p:'0.43', ticks:[9,10,11,12,13], zero:zero_Z2, y:y_Z2, fit:fit_Z2, lo:lo_Z2, hi:hi_Z2, rY:rY_Z2, rD:rD_Z2, l:1422, r:1637, t:1022, b:1203, st:987, sb:1020, pk:1679, lx:1393, ly:977}
];

const FONT = '"Liberation Sans", Arial, sans-serif';
const GRID_MAJOR = '#e6e6e6', GRID_MINOR = '#f2f2f2';

const xLo = 0, xHi = 7.13, xPad = (xHi - xLo) * 0.05;
const xRange = {min: xLo - xPad, max: xHi + xPad};

const option = {
  animation: false,
  backgroundColor: '#fff',
  textStyle: {fontFamily: FONT},
  title: [], grid: [], xAxis: [], yAxis: [], series: []
};

function bareAxis(gridIndex, extra) {
  return Object.assign({type: 'value', gridIndex: gridIndex, show: false}, extra);
}

// second axis on the same grid, only there to draw the lighter gridlines
function minorAxis(gridIndex, range, values, position) {
  return Object.assign({
    type: 'value', gridIndex: gridIndex, position: position,
    axisLine: {show: false}, axisLabel: {show: false},
    axisTick: {show: false, customValues: values},
    splitLine: {show: true, lineStyle: {color: GRID_MINOR, width: 0.8}}
  }, range);
}

function addPanel(p) {
  const g = option.grid.length;
  const xIdx = option.xAxis.length;
  const yIdx = option.yAxis.length;
  const allY = p.zero.concat(p.y);
  const yLo = Math.min.apply(null, allY), yHi = Math.max.apply(null, allY);
  const yPad = (yHi - yLo) * 0.05;
  const yRange = {min: yLo - yPad, max: yHi + yPad};
  const w = p.r - p.l, h = p.b - p.t;

  // main scatter box
  option.grid.push({left: p.l, top: p.t, width: w, height: h, show: true,
    backgroundColor: '#fff', borderColor: '#555', borderWidth: 1.3});
  option.xAxis.push(Object.assign({
    type: 'value', gridIndex: g, name: 'AC079612.1', nameLocation: 'middle', nameGap: 11,
    nameTextStyle: {fontSize: 8, color: '#222', fontFamily: FONT},
    axisLine: {show: false},
    axisTick: {show: true, length: 2, customValues: xTicks, lineStyle: {color: '#444', width: 0.7}},
    axisLabel: {show: true, fontSize: 6.5, color: '#666', margin: 3, customValues: xTicks, fontFamily: FONT},
    splitLine: {show: true, lineStyle: {color: GRID_MAJOR, width: 1}}
  }, xRange));
  const major = p.ticks;
  const step = major[1] - major[0];
  const minorY = [major[0] - step / 2].concat(major.map(v => v + step / 2));
  const dec = p.dec || 0;
  option.yAxis.push(Object.assign({
    type: 'value', gridIndex: g, name: p.gene, nameLocation: 'middle', nameGap: p.gap || 11,
    nameTextStyle: p.red
      ? {fontSize: 11.5, fontWeight: 'bold', color: '#f0141e', fontFamily: FONT}
      : {fontSize: p.geneSize || 8, color: '#222', fontFamily: FONT},
    axisLine: {show: false},
    axisTick: {show: true, length: 2, customValues: major, lineStyle: {color: '#444', width: 0.7}},
    axisLabel: {show: true, fontSize: 6.5, color: '#666', margin: 3, customValues: major,
      fontFamily: FONT, formatter: v => Number(v).toFixed(dec)},
    splitLine: {show: true, lineStyle: {color: GRID_MAJOR, width: 1}}
  }, yRange));
  option.xAxis.push(minorAxis(g, xRange, xMinor, 'top'));
  option.yAxis.push(minorAxis(g, yRange, minorY, 'right'));

  const points = p.zero.map(v => [0, v]).concat(xValues.map((x, i) => [x, p.y[i]]));
  option.series.push({
    type: 'scatter', xAxisIndex: xIdx, yAxisIndex: yIdx, data: points,
    symbolSize: 4.2, itemStyle: {color: '#000'}, silent: true
  });

  // confidence band goes over the points like geom_smooth does
  const bandData = bandX.map((x, i) => [x, p.lo[i], p.hi[i]]);
  option.series.push({
    type: 'custom', xAxisIndex: xIdx, yAxisIndex: yIdx, silent: true, data: bandData,
    encode: {x: 0, y: [1, 2]}, z: 3,
    renderItem: function (params, api) {
      if (params.dataIndex !== 0) return null;
      const upper = bandData.map(d => api.coord([d[0], d[2]]));
      const lower = bandData.map(d => api.coord([d[0], d[1]])).reverse();
      return {type: 'polygon', shape: {points: upper.concat(lower)},
        style: {fill: 'rgba(153,153,153,0.42)'}};
    }
  });
  option.series.push({
    type: 'line', xAxisIndex: xIdx, yAxisIndex: yIdx, silent: true, z: 4,
    data: [[bandX[0], p.fit[0]], [xHi, p.fit[1]]],
    showSymbol: false, lineStyle: {color: '#2f5fb5', width: 2}
  });

  // top marginal
  const gTop = option.grid.length;
  option.grid.push({left: p.l, top: p.st, width: w, height: p.sb - p.st});
  option.xAxis.push(bareAxis(gTop, xRange));
  option.yAxis.push(bareAxis(gTop, {min: 0, max: 100}));
  option.series.push({
    type: 'line', xAxisIndex: option.xAxis.length - 1, yAxisIndex: option.yAxis.length - 1,
    silent: true, showSymbol: false, smooth: 0.3,
    data: topX.map((x, i) => [x, topD[i]]),
    lineStyle: {color: '#000', width: 1.1},
    areaStyle: {color: '#f5a11b', opacity: 1}
  });

  // side marginal
  const gSide = option.grid.length;
  option.grid.push({left: p.r + 1, top: p.t, width: p.pk - p.r - 1, height: h});
  option.xAxis.push(bareAxis(gSide, {min: 0, max: 100}));
  option.yAxis.push(bareAxis(gSide, yRange));
  const sideData = p.rY.map((v, i) => [p.rD[i], v]);
  option.series.push({
    type: 'custom', xAxisIndex: option.xAxis.length - 1, yAxisIndex: option.yAxis.length - 1,
    silent: true, data: sideData, encode: {x: 0, y: 1},
    renderItem: function (params, api) {
      if (params.dataIndex !== 0) return null;
      const curve = sideData.map(d => api.coord(d));
      const b0 = api.coord([0, sideData[0][1]]);
      const b1 = api.coord([0, sideData[sideData.length - 1][1]]);
      const outline = [b0, b0].concat(curve, [b1, b1]);
      return {type: 'group', children: [
        {type: 'polygon', shape: {points: outline, smooth: 0.5}, style: {fill: '#17479e'}},
        {type: 'polyline', shape: {points: curve, smooth: 0.5},
          style: {stroke: '#000', fill: null, lineWidth: 1.1}}
      ]};
    }
  });

  // panel letter
  option.title.push({
    text: p.id, left: p.lx, top: p.ly - 12.5, padding: 0,
    textStyle: {fontSize: 27, fontWeight: 'bold', color: '#231815', fontFamily: FONT, lineHeight: 30}
  });
  // correlation label starts where x = 0 sits
  const zeroX = p.l + w * (0 - xRange.min) / (xRange.max - xRange.min);
  const annoSize = p.annoSize || 7.4;
  option.title.push({
    text: '{i|R} = ' + p.R + ', {i|p} = ' + p.p, left: zeroX, top: p.t + 9 + (p.annoDy || 0), padding: 0,
    textStyle: {fontSize: annoSize, fontWeight: 'normal', color: '#222', fontFamily: FONT, lineHeight: 10,
      rich: {i: {fontStyle: 'italic', fontWeight: 'normal', fontSize: annoSize, color: '#222', fontFamily: FONT, lineHeight: 10}}}
  });
}

panels.forEach(addPanel);

const chart = echarts.init(document.getElementById('chart'), null, {width: 1947, height: 1244});
chart.setOption(option);
</script>
</body>
</html>
